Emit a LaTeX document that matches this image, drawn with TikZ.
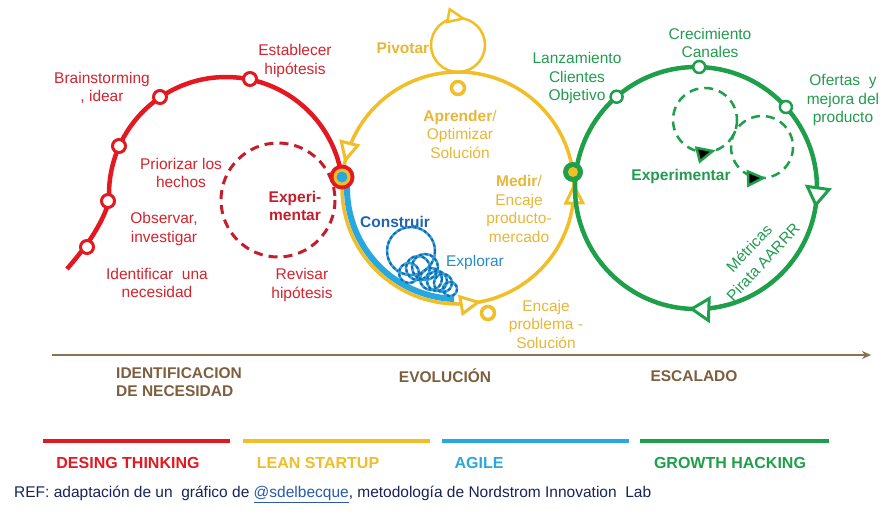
\documentclass[tikz,border=0pt]{standalone}
\usepackage{fontspec}
\setmainfont{Liberation Sans}
\usetikzlibrary{arrows.meta}
\definecolor{cred}{RGB}{227,24,32}
\definecolor{cdred}{RGB}{196,30,45}
\definecolor{tred}{RGB}{212,36,46}
\definecolor{cyel}{RGB}{241,190,40}
\definecolor{tyel}{RGB}{232,183,55}
\definecolor{cblue}{RGB}{41,168,224}
\definecolor{dblue}{RGB}{30,100,175}
\definecolor{eblue}{RGB}{40,140,200}
\definecolor{cgreen}{RGB}{30,160,75}
\definecolor{tgreen}{RGB}{35,155,80}
\definecolor{cbrown}{RGB}{140,112,82}
\definecolor{tbrown}{RGB}{125,95,62}
\definecolor{cnavy}{RGB}{25,35,90}
\definecolor{clink}{RGB}{40,90,170}
\tikzset{
  lbl/.style={font=\fontsize{15.5}{18.5}\selectfont, align=center, inner sep=0pt},
  blbl/.style={font=\fontsize{15.5}{18.5}\selectfont\bfseries, align=center, inner sep=0pt},
  hdr/.style={font=\fontsize{16}{19}\selectfont\bfseries, inner sep=0pt},
  rdot/.style={circle, draw=cred, line width=3pt, fill=white, minimum size=13pt, inner sep=0pt},
  ydot/.style={circle, draw=cyel, line width=3.5pt, fill=white, minimum size=13pt, inner sep=0pt},
  gdot/.style={circle, draw=cgreen, line width=2.5pt, fill=white, minimum size=12pt, inner sep=0pt},
  coilL/.style={cblue, line width=2.5pt},
  coilD/.style={dblue, line width=2pt, dash pattern=on 3pt off 2.5pt},
  gdash/.style={cgreen, line width=2.5pt, dash pattern=on 9pt off 6pt},
  pics/atri/.style n args={4}{code={
    \draw[draw=#3, fill=#4, line join=miter] (0,0) -- (-#1,#2) -- (-#1,-#2) -- cycle;}},
}
\begin{document}
\begin{tikzpicture}[x=1pt,y=-1pt]
\useasboundingbox[fill=white] (0,0) rectangle (896,523);

% ---------- red (design thinking) ----------
\draw[cdred, line width=3pt, dash pattern=on 9pt off 6pt] (278,200) circle[radius=57];
\draw[cred, line width=4.5pt] (67,269) .. controls (76,258) and (100,232) .. (109,201)
   -- plot[domain=176.6:351.7, samples=80] ({226+117*cos(\x)},{194+117*sin(\x)});
\node[rdot] (r1) at (87,247) {};
\node[rdot] (r2) at (108,201) {};
\node[rdot] (r3) at (119,146) {};
\node[rdot] (r4) at (160,97) {};
\node[rdot] (r5) at (250,79) {};

% ---------- yellow (lean startup) ----------
\draw[cyel, line width=2.5pt] (458,45) circle[radius=27];
\pic[line width=2.5pt, rotate=-11] at (463.2,18.5) {atri={15}{6.5}{cyel}{white}};
\draw[cyel, line width=3.5pt] (458,188) circle[radius=116];
\pic[line width=3pt, rotate=-104] at (345.4,159.9) {atri={17}{8.5}{cyel}{white}};
\pic[line width=3pt, rotate=10] at (478.1,302.2) {atri={17}{8.5}{cyel}{white}};
\pic[line width=3pt, rotate=91] at (574,186) {atri={17}{8.5}{cyel}{white}};
\node[ydot] (y1) at (458,88) {};
\node[ydot] (y2) at (488,313) {};

% ---------- blue (agile) ----------
\draw[cblue, line width=6pt] plot[domain=186:92, samples=60] ({458+111*cos(\x)},{188+111*sin(\x)});
\foreach \cx/\cy/\rr in {411/251/24, 409/273/10, 418/268/12, 425/267/13, 431/279/11, 437/281/10, 443/283/9, 450/289/7}{
  \draw[coilL] (\cx,\cy) circle[radius=\rr];
  \draw[coilD] (\cx,\cy) circle[radius=\rr];
}

% ---------- green (growth hacking) ----------
\draw[cgreen, line width=4.5pt] (696,188) circle[radius=121];
\pic[line width=3pt, rotate=-98] at (815.8,204.8) {atri={17}{11}{cgreen}{white}};
\pic[line width=3pt, rotate=178] at (691.8,308.9) {atri={17}{11}{cgreen}{white}};
\draw[gdash] (705,120) circle[radius=32];
\draw[gdash] (762,147) circle[radius=31];
\pic[line width=2.5pt, rotate=14] at (712.7,151) {atri={15}{7}{cgreen}{black}};
\pic[line width=2.5pt, rotate=2] at (763.1,178) {atri={15}{7}{cgreen}{black}};
\node[gdot] (g1) at (616.6,96.7) {};
\node[gdot] (g2) at (699.2,67) {};
\node[gdot] (g3) at (785.9,107) {};

% ---------- junctions ----------
\node[circle, fill=cred, minimum size=25pt, inner sep=0pt] (j1) at (342,177) {};
\node[circle, fill=cyel, minimum size=17pt, inner sep=0pt] at (j1) {};
\node[circle, fill=cblue, minimum size=11pt, inner sep=0pt] at (j1) {};
\node[circle, fill=cgreen, minimum size=20pt, inner sep=0pt] (j2) at (573,172) {};
\node[circle, fill=cyel, minimum size=10pt, inner sep=0pt] at (j2) {};

% ---------- red labels ----------
\node[lbl, text=tred] (tBrain) at (102,88) {Brainstorming\\, idear};
\node[lbl, text=tred] (tEst) at (295,61) {Establecer\\hipótesis};
\node[lbl, text=tred] (tPrio) at (181,173) {Priorizar los\\hechos};
\node[lbl, text=tred] (tObs) at (164,229) {Observar,\\investigar};
\node[lbl, text=tred] (tIdent) at (157,283) {Identificar\ \ una\\necesidad};
\node[lbl, text=tred] (tRev) at (302,285) {Revisar\\hipótesis};
\node[blbl, text=cdred] (tExpR) at (295,206) {Experi-\\mentar};

% ---------- yellow labels ----------
\node[blbl, text=tyel] (tPiv) at (403,48) {Pivotar};
\node[lbl, text=tyel] (tApr) at (460,134) {\textbf{Aprender}/\\Optimizar\\Solución};
\node[lbl, text=tyel] (tMed) at (519,209) {\textbf{Medir}/\\Encaje\\producto-\\mercado};
\node[lbl, text=tyel] (tEnc) at (546,324) {Encaje\\problema -\\Solución};

% ---------- blue labels ----------
\node[blbl, text=dblue] (tCons) at (395,222) {Construir};
\node[lbl, text=eblue] (tExpl) at (475,262) {Explorar};

% ---------- green labels ----------
\node[lbl, text=tgreen] (tLanz) at (577,78) {Lanzamiento\\Clientes\\Objetivo};
\node[lbl, text=tgreen] (tCrec) at (710,43) {Crecimiento\\Canales};
\node[lbl, text=tgreen] (tOfer) at (843,100) {Ofertas\ \ y\\mejora del\\producto};
\node[blbl, text=tgreen] (tExpG) at (681,176) {Experimentar};
\node[lbl, text=tgreen, rotate=47] (tMet1) at (749,248) {Métricas};
\node[lbl, text=tgreen, rotate=47] (tMet2) at (763,262) {Pirata AARRR};

% ---------- axis ----------
\coordinate (axL) at (52,355);
\coordinate (axR) at (871,355);
\draw[cbrown, line width=2pt, -{Stealth[length=9pt,width=8pt]}] (axL) -- (axR);
\node[blbl, text=tbrown, align=left, anchor=north west] (tIdN) at (116,367) {IDENTIFICACION\\DE NECESIDAD};
\node[blbl, text=tbrown] (tEvo) at (445,376) {EVOLUCIÓN};
\node[blbl, text=tbrown] (tEsc) at (694,376) {ESCALADO};

% ---------- legend ----------
\draw[cred, line width=4pt] (43,441) -- (230,441);
\draw[cyel, line width=4pt] (243,441) -- (430,441);
\draw[cblue, line width=4pt] (442,441) -- (629,441);
\draw[cgreen, line width=4pt] (640,441) -- (829,441);
\node[hdr, text=cred] (lDT) at (128,463) {DESING THINKING};
\node[hdr, text=cyel] (lLS) at (318,463) {LEAN STARTUP};
\node[hdr, text=cblue] (lAG) at (479,463) {AGILE};
\node[hdr, text=cgreen] (lGH) at (730,463) {GROWTH HACKING};

\node[lbl, text=cnavy, anchor=west] (tRef) at (14,494)
  {REF: adaptación de un\ \ gráfico de \textcolor{clink}{\underline{@sdelbecque}}, metodología de Nordstrom Innovation\ \ Lab};
\end{tikzpicture}
\end{document}
